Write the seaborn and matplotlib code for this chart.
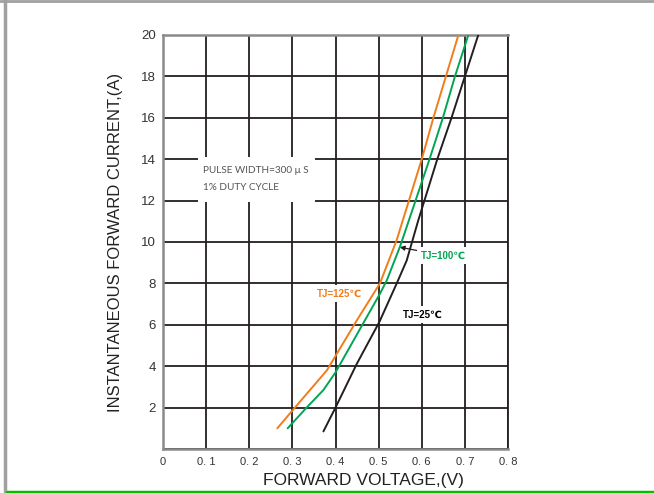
import numpy as np
import pandas as pd
import matplotlib
matplotlib.use("Agg")
import matplotlib.pyplot as plt
from matplotlib.patches import Rectangle
from matplotlib.lines import Line2D
import seaborn as sns

# curvas (tensao V, corrente A)
v_125 = [0.265, 0.310, 0.380, 0.403, 0.449, 0.503, 0.542, 0.600, 0.627, 0.656, 0.685]
i_125 = [1.0, 2.1, 3.8, 4.6, 6.2, 8.0, 10.1, 14.0, 16.0, 18.0, 20.0]

v_100 = [0.289, 0.333, 0.372, 0.400, 0.465, 0.503, 0.519, 0.550, 0.618, 0.649, 0.677, 0.708]
i_100 = [1.0, 2.0, 2.85, 3.7, 6.1, 7.5, 8.15, 9.8, 14.0, 16.0, 18.0, 20.0]

v_25 = [0.372, 0.400, 0.449, 0.502, 0.542, 0.565, 0.592, 0.636, 0.669, 0.700, 0.731]
i_25 = [0.85, 2.0, 4.1, 6.15, 8.0, 9.1, 11.05, 14.0, 16.0, 18.0, 20.0]

series = ["TJ=125℃", "TJ=100℃", "TJ=25℃"]
cores = {"TJ=125℃": "#f07d1a", "TJ=100℃": "#00a651", "TJ=25℃": "#231f20"}

x_ticks = [0, 0.1, 0.2, 0.3, 0.4, 0.5, 0.6, 0.7, 0.8]
x_labels = ["0", "0. 1", "0. 2", "0. 3", "0. 4", "0. 5", "0. 6", "0. 7", "0. 8"]
y_ticks = [0, 2, 4, 6, 8, 10, 12, 14, 16, 18, 20]
y_labels = ["", "2", "4", "6", "8", "10", "12", "14", "16", "18", "20"]

df = pd.concat([
    pd.DataFrame({"v": v_125, "i": i_125, "tj": series[0]}),
    pd.DataFrame({"v": v_100, "i": i_100, "tj": series[1]}),
    pd.DataFrame({"v": v_25, "i": i_25, "tj": series[2]}),
])

sns.set_style("white")
plt.rcParams["font.family"] = ["Liberation Sans", "DejaVu Sans"]

fig = plt.figure(figsize=(6.54, 4.93), dpi=100)
ax = fig.add_axes([163 / 654, 1 - 449 / 493, 345 / 654, 414 / 493])

sns.lineplot(data=df, x="v", y="i", hue="tj", palette=cores, sort=False,
             estimator=None, linewidth=1.4, legend=False, ax=ax, zorder=3)

ax.set_xlim(0, 0.8)
ax.set_ylim(0, 20)
ax.set_xticks(x_ticks)
ax.set_xticklabels(x_labels, fontsize=8, color="#333333")
ax.set_yticks(y_ticks)
ax.set_yticklabels(y_labels, fontsize=9.5, color="#333333")
ax.tick_params(length=0)
ax.tick_params(axis="x", pad=6)
ax.tick_params(axis="y", pad=5)
ax.grid(True, color="#231f20", linewidth=1.3)
ax.set_axisbelow(True)

for lado in ["top", "left", "bottom"]:
    ax.spines[lado].set_color("#8a8a8a")
    ax.spines[lado].set_linewidth(1.8)
ax.spines["right"].set_color("#231f20")
ax.spines["right"].set_linewidth(1.3)

ax.set_xlabel("FORWARD VOLTAGE,(V)", fontsize=12.5, color="#222222")
ax.xaxis.set_label_coords(200 / 345, -24 / 414)
ax.set_ylabel("INSTANTANEOUS FORWARD CURRENT,(A)", fontsize=12, color="#222222")
ax.yaxis.set_label_coords(-40 / 345, 0.5)

# caixa de condicoes de teste
ax.add_patch(Rectangle((0.081, 11.93), 0.272, 2.17, facecolor="white",
                       edgecolor="none", zorder=1.5))
ax.text(0.092, 13.45, "PULSE WIDTH=300 μ S", fontsize=7.2, color="#555555",
        va="center", zorder=2, family=["Lato", "DejaVu Sans"])
ax.text(0.092, 12.65, "1% DUTY CYCLE", fontsize=7.2, color="#555555",
        va="center", zorder=2, family=["Lato", "DejaVu Sans"])

fonte_tj = ["Liberation Sans Narrow", "Liberation Sans", "DejaVu Sans"]
caixa = dict(facecolor="white", edgecolor="none", pad=2.5)
ax.text(0.41, 7.5, "TJ=125℃", color=cores["TJ=125℃"], fontsize=7, fontweight="bold",
        ha="center", va="center", bbox=caixa, family=fonte_tj, zorder=2)
ax.text(0.602, 6.5, "TJ=25℃", color="#000000", fontsize=7, fontweight="bold",
        ha="center", va="center", bbox=caixa, family=fonte_tj, zorder=2)
ax.annotate("TJ=100℃", xy=(0.549, 9.75), xytext=(0.649, 9.35),
            color=cores["TJ=100℃"], fontsize=7, fontweight="bold",
            ha="center", va="center", bbox=caixa, family=fonte_tj, zorder=2,
            arrowprops=dict(arrowstyle="-|>", color="#231f20", lw=0.9,
                            mutation_scale=7, shrinkA=0, shrinkB=0))

# bordas da pagina
fig.add_artist(Line2D([5.5 / 654, 5.5 / 654], [0, 1], color="#a0a0a0", lw=2.5))
fig.add_artist(Line2D([0, 1], [1 - 1 / 493, 1 - 1 / 493], color="#a0a0a0", lw=2))
fig.add_artist(Line2D([7 / 654, 1], [1.5 / 493, 1.5 / 493], color="#00c000", lw=2.5))

fig.savefig("out.png", dpi=100)
